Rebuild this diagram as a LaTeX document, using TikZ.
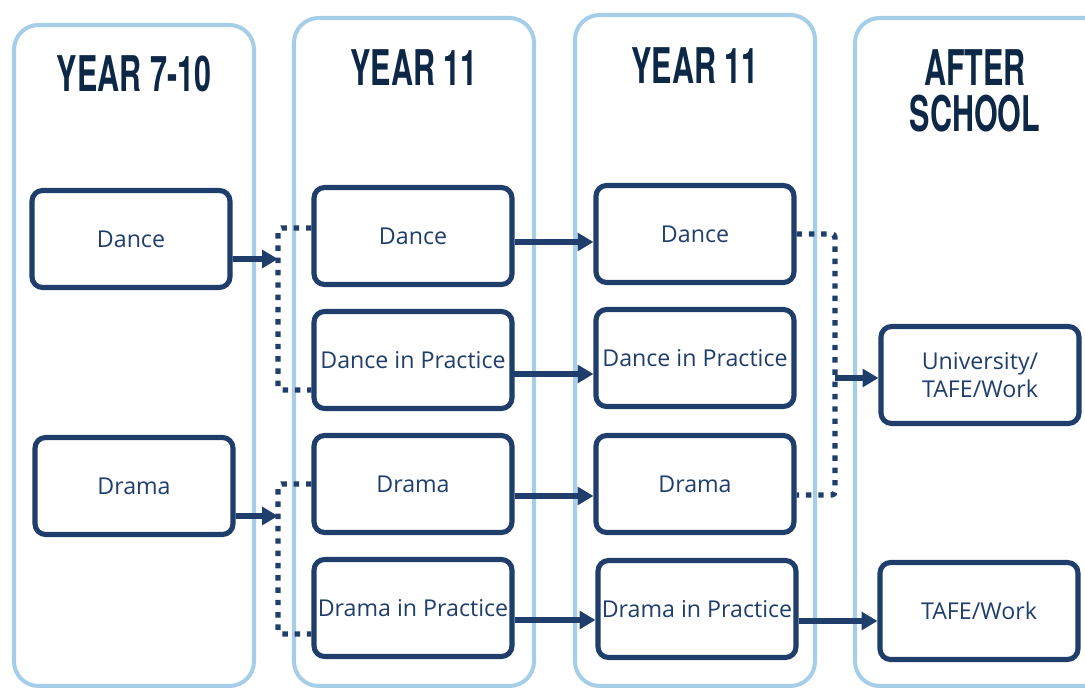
\documentclass[tikz,border=0pt]{standalone}
\usepackage{fontspec}
\setmainfont{Open Sans}
\newfontfamily\headfont{TeX Gyre Heros}
\usepackage{tikz}
\usetikzlibrary{arrows.meta,calc}
\tikzset{>={Triangle[length=9pt,width=10pt]}}
\definecolor{navy}{HTML}{1F3E6B}
\definecolor{headnavy}{HTML}{0D2746}
\definecolor{paleblue}{HTML}{A6CEE8}
\newcommand{\headtxt}[1]{\scalebox{0.62}[1]{\headfont\bfseries #1}}

\begin{document}
\begin{tikzpicture}[x=0.02cm,y=-0.02cm,%
                    column/.style={draw=paleblue,line width=2.3pt,rounded corners=14pt},
                    subject/.style={draw=navy,line width=2.9pt,rounded corners=6pt,text=navy,
                                    minimum width=3.96cm,minimum height=1.94cm,inner sep=0,
                                    font=\fontsize{13.2}{15.5}\selectfont,align=center},
                    heading/.style={text=headnavy,font=\fontsize{28}{25}\selectfont,align=center},
                    arrow/.style={->,draw=navy,line width=3.2pt},
                    dotline/.style={draw=navy,line width=3.1pt,dash pattern=on 3.1pt off 3.9pt,rounded corners=2pt},
        ]
        \useasboundingbox (0,0) rectangle (1085,688);
        % columns
        \draw[column] (14,25) rectangle (254,686);
        \draw[column] (294,18) rectangle (534,686);
        \draw[column] (575,15) rectangle (815,686);
        \draw[column] (855,18) rectangle (1110,686);
        \node[heading] (h1) at (134,74) {\headtxt{YEAR 7-10}};
        \node[heading] (h2) at (414,68) {\headtxt{YEAR 11}};
        \node[heading] (h3) at (695,66) {\headtxt{YEAR 11}};
        \node[heading] (h4) at (975,91) {\headtxt{AFTER}\\[1pt]\headtxt{SCHOOL}};
%
        \node[subject] (dance1) at (131,239) {Dance};
        \node[subject] (drama1) at (134,486) {Drama};
        \node[subject] (dance2) at (413,236) {Dance};
        \node[subject] (dip2) at (413,360) {Dance in Practice};
        \node[subject] (drama2) at (413,484) {Drama};
        \node[subject] (drip2) at (413,608) {Drama in Practice};
        \node[subject] (dance3) at (695,234) {Dance};
        \node[subject] (dip3) at (695,358) {Dance in Practice};
        \node[subject] (drama3) at (695,484) {Drama};
        \node[subject] (drip3) at (697,609) {Drama in Practice};
        \node[subject] (uni) at (980,375) {University/\\TAFE/Work};
        \node[subject] (tafe) at (979,611) {TAFE/Work};
        \coordinate (jn1) at (278,259);
        \coordinate (jn2) at (278,516);
        \coordinate (jn3) at (835,378);
%
        \draw[dotline] ([yshift=0.16cm]dance2.west) -| (jn1) |- ([yshift=-0.6cm]dip2.west);
        \draw[dotline] (drama2.west) -| (jn2) |- ([yshift=-0.52cm]drip2.west);
        \draw[dotline] (dance3.east) -| (jn3) |- ([yshift=-0.22cm]drama3.east);
        \draw[arrow] ([yshift=-0.4cm]dance1.east) -- (jn1);
        \draw[arrow] ([yshift=-0.6cm]drama1.east) -- (jn2);
        \draw[arrow] ([yshift=-0.12cm]dance2.east) -- ([yshift=-0.12cm]dance2.east -| dance3.west);
        \draw[arrow] ([xshift=-0.08cm,yshift=-0.28cm]dip2.east) -- ([yshift=-0.28cm]dip2.east -| dip3.west);
        \draw[arrow] ([yshift=-0.24cm]drama2.east) -- ([yshift=-0.24cm]drama2.east -| drama3.west);
        \draw[arrow] ([yshift=-0.24cm]drip2.east) -- ([yshift=-0.24cm]drip2.east -| drip3.west);
        \draw[arrow] (jn3) -- (jn3 -| uni.west);
        \draw[arrow] ([yshift=-0.24cm]drip3.east) -- ([yshift=-0.24cm]drip3.east -| tafe.west);
    \end{tikzpicture}
\end{document}
